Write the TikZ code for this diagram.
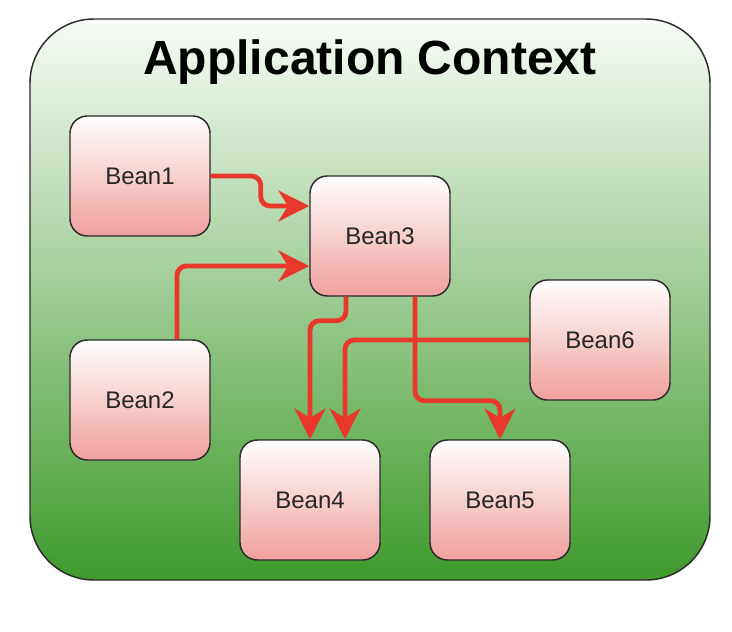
\documentclass[tikz,border=0pt]{standalone}
\usepackage{fontspec}
\setmainfont{Liberation Sans}
\usetikzlibrary{arrows.meta}
\definecolor{ctxtop}{HTML}{F8FCF7}
\definecolor{ctxmid}{HTML}{8AC57E}
\definecolor{ctxbottom}{HTML}{3F9A2C}
\definecolor{beantop}{HTML}{FFFFFF}
\definecolor{beanbottom}{HTML}{EFA09D}
\definecolor{wire}{HTML}{E8382B}
\definecolor{edge}{HTML}{2B2B2B}
\tikzset{
  bean/.style={draw=edge,line width=1.1pt,rounded corners=13pt,minimum width=105pt,minimum height=90pt,
    top color=beantop,bottom color=beanbottom,text=black!85,font=\fontsize{18}{20}\selectfont},
  dep/.style={draw=wire,line width=3.6pt,rounded corners=7pt,-{Stealth[length=23pt,width=23pt,inset=7pt]}}
}
\begin{document}
\begin{tikzpicture}[x=0.75pt,y=-0.75pt]
    \useasboundingbox (0,0) rectangle (732,632);
    \path[draw=edge,line width=1.1pt,rounded corners=48pt,top color=ctxtop,middle color=ctxmid,bottom color=ctxbottom] (30,19) rectangle (710,580);
    \node[font=\bfseries\fontsize{36}{40}\selectfont] (title) at (370,62) {Application Context};

    \node[bean] (bean1) at (140,176) {Bean1};
    \node[bean] (bean2) at (140,400) {Bean2};
    \node[bean] (bean3) at (380,236) {Bean3};
    \node[bean] (bean4) at (310,500) {Bean4};
    \node[bean] (bean5) at (500,500) {Bean5};
    \node[bean] (bean6) at (600,340) {Bean6};

    \draw[dep] (bean1.east) -- ++(50,0) |- ([yshift=22.5pt]bean3.west);
    \draw[dep] ([xshift=27.75pt]bean2.north) |- ([yshift=-22.5pt]bean3.west);
    \draw[dep] ([xshift=-25.5pt]bean3.south) -- ++(0,24) -| (bean4.north);
    \draw[dep] (bean6.west) -| ([xshift=26.25pt]bean4.north);
    \draw[dep] ([xshift=26.25pt]bean3.south) -- ++(0,104) -| (bean5.north);
\end{tikzpicture}
\end{document}
